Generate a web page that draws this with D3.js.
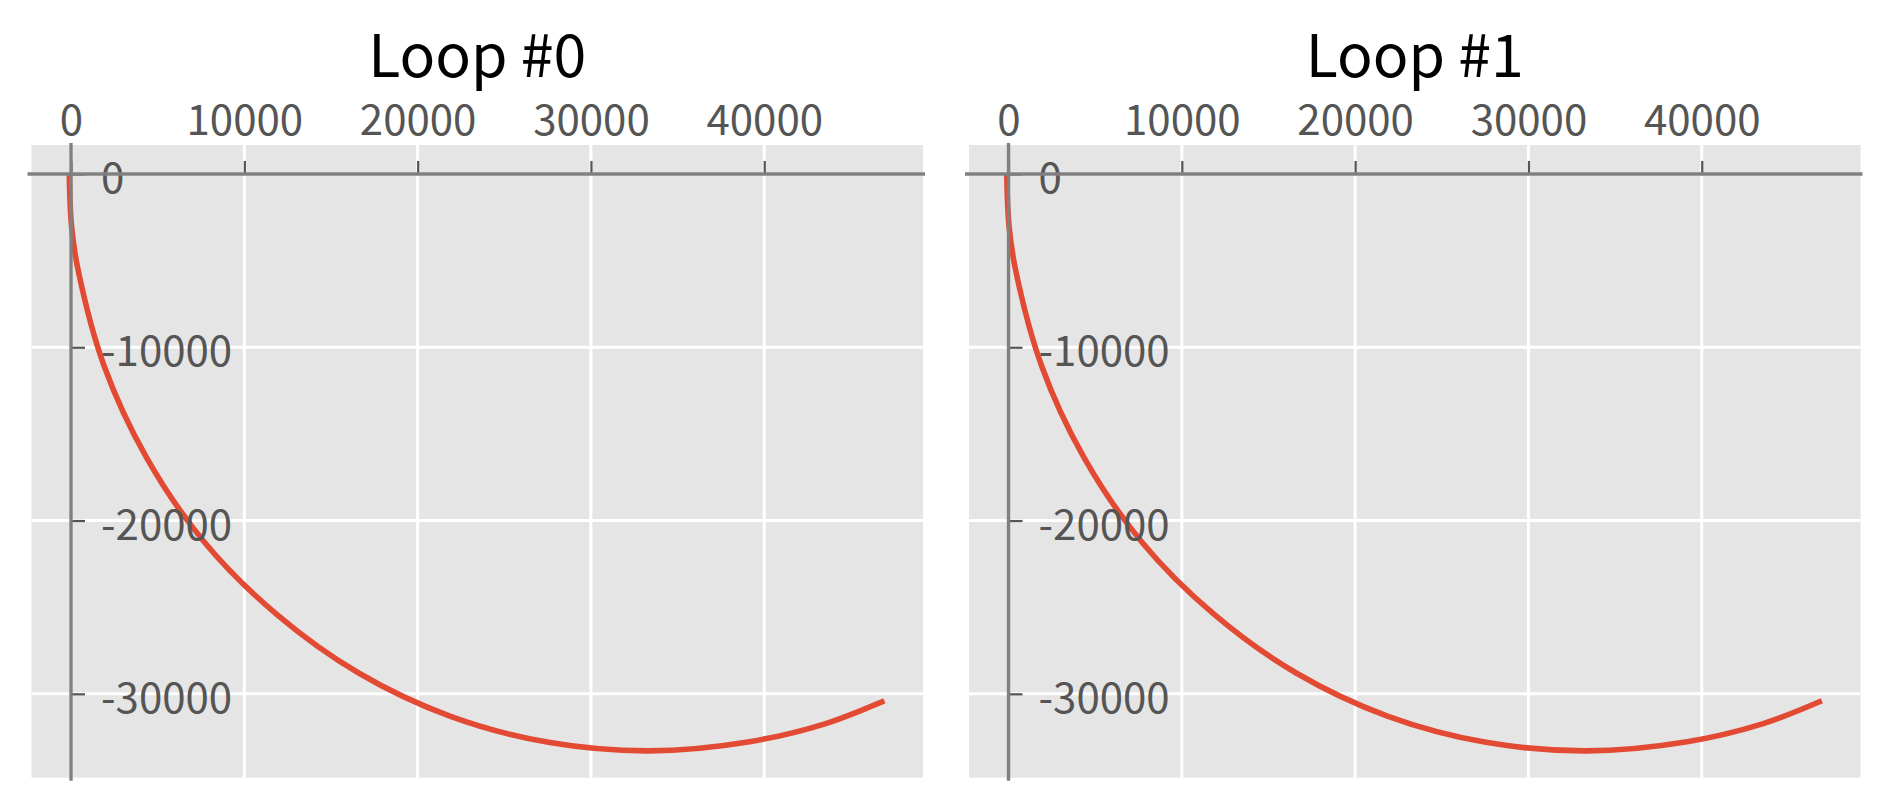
<!DOCTYPE html>
<html>
<head>
<meta charset="utf-8">
<script src="https://cdn.jsdelivr.net/npm/d3@7"></script>
<style>
  html, body { margin: 0; padding: 0; background: #fff; }
  svg { display: block; }
  text { font-family: "Noto Sans CJK SC", "Noto Sans", sans-serif; }
</style>
</head>
<body>
<svg id="chart" width="1890" height="810"></svg>
<script>
// values
const titles = ['Loop #0', 'Loop #1'];
const xTicks = [0, 10000, 20000, 30000, 40000];
const yTicks = [0, -10000, -20000, -30000];
const xDomain = [-2280, 49160];
const yDomain = [-34840, 1670];
const pathX = [-100, 30, 400, 1900, 4350, 7700, 11850, 16600, 21900, 27550, 33350, 39150, 43500, 46930];
const pathY = [0, -3000, -5500, -11050, -16350, -21250, -25400, -28800, -31300, -32800, -33290, -32760, -31730, -30400];

const svg = d3.select('#chart');
const panelW = 891.5;
const panelTop = 145;
const panelBottom = 777.7;
const panelLefts = [31.5, 969];

const points = pathX.map((v, i) => ({ x: v, y: pathY[i] }));

titles.forEach((title, idx) => {
  const left = panelLefts[idx];
  const right = left + panelW;
  const x = d3.scaleLinear().domain(xDomain).range([left, right]);
  const y = d3.scaleLinear().domain(yDomain).range([panelBottom, panelTop]);
  const g = svg.append('g');

  g.append('rect')
    .attr('x', left).attr('y', panelTop)
    .attr('width', panelW).attr('height', panelBottom - panelTop)
    .attr('fill', '#e5e5e5');

  // grid
  g.selectAll('.vgrid').data(xTicks).join('line')
    .attr('x1', d => x(d)).attr('x2', d => x(d))
    .attr('y1', panelTop).attr('y2', panelBottom)
    .attr('stroke', '#fff').attr('stroke-width', 3);
  g.selectAll('.hgrid').data(yTicks).join('line')
    .attr('y1', d => y(d)).attr('y2', d => y(d))
    .attr('x1', left).attr('x2', right)
    .attr('stroke', '#fff').attr('stroke-width', 3);

  // curve
  const line = d3.line().x(p => x(p.x)).y(p => y(p.y)).curve(d3.curveCatmullRom);
  g.append('path')
    .datum(points)
    .attr('d', line)
    .attr('fill', 'none')
    .attr('stroke', '#e24a33')
    .attr('stroke-width', 5.6);

  // axes through zero
  const xAxis = g.append('g')
    .attr('transform', `translate(0,${y(0)})`)
    .call(d3.axisTop(x).tickValues(xTicks).tickSize(13).tickPadding(26).tickFormat(d => String(d)));
  const yAxis = g.append('g')
    .attr('transform', `translate(${x(0)},0)`)
    .call(d3.axisRight(y).tickValues(yTicks).tickSize(14).tickPadding(16).tickFormat(d => String(d)));

  [xAxis, yAxis].forEach(ax => {
    ax.select('.domain').remove();
    ax.selectAll('.tick line').attr('stroke', '#555').attr('stroke-width', 2.2);
    ax.selectAll('.tick text')
      .attr('fill', '#555')
      .style('font-family', '"Noto Sans CJK SC", "Noto Sans", sans-serif')
      .style('font-size', '42px');
  });
  yAxis.selectAll('.tick text').attr('dy', '0.44em');

  // spines
  g.append('line')
    .attr('x1', left - 4).attr('x2', right + 2)
    .attr('y1', y(0)).attr('y2', y(0))
    .attr('stroke', '#808080').attr('stroke-width', 3.4);
  g.append('line')
    .attr('x1', x(0)).attr('x2', x(0))
    .attr('y1', panelTop - 2).attr('y2', panelBottom + 3)
    .attr('stroke', '#808080').attr('stroke-width', 3.4);

  g.append('text')
    .attr('x', (left + right) / 2)
    .attr('y', 77)
    .attr('text-anchor', 'middle')
    .attr('fill', '#000')
    .style('font-size', '59px')
    .text(title);
});
</script>
</body>
</html>
